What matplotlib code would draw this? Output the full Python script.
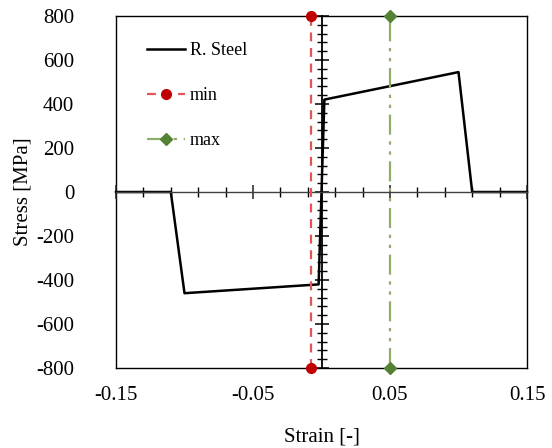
import matplotlib
matplotlib.use('Agg')
from matplotlib import pyplot as plt
from matplotlib.ticker import MultipleLocator, NullFormatter

plt.rcParams['font.family'] = ['Liberation Serif', 'DejaVu Serif']
plt.rcParams['axes.unicode_minus'] = False

# steel stress-strain curve
strain = [-0.15, -0.11, -0.10, -0.0021, 0.0021, 0.10, 0.11, 0.15]
stress = [0, 0, -460, -420, 420, 545, 0, 0]

# limit lines
min_strain = [-0.008, -0.008]
max_strain = [0.05, 0.05]
limit_stress = [-800, 800]

xticks = [-0.15, -0.05, 0.05, 0.15]
xticklabels = ['-0.15', '-0.05', '0.05', '0.15']
yticks = list(range(-800, 801, 200))

fig = plt.figure(figsize=(5.52, 4.48), dpi=100)
pos = [116/552, 80/448, 411/552, 352/448]

# outer frame with the tick labels
ax = fig.add_axes(pos)
ax.set_xlim(-0.15, 0.15)
ax.set_ylim(-800, 800)
ax.set_xticks(xticks)
ax.set_xticklabels(xticklabels)
ax.set_yticks(yticks)
ax.tick_params(axis='x', length=0, pad=13, labelsize=15)
ax.tick_params(axis='y', length=0, pad=30, labelsize=15)
for s in ax.spines.values():
    s.set_linewidth(1.0)
ax.set_xlabel('Strain [-]', fontsize=15, labelpad=16)
ax.set_ylabel('Stress [MPa]', fontsize=15, labelpad=3)

# inner axes crossing at zero
ai = fig.add_axes(pos)
ai.set_xlim(-0.15, 0.15)
ai.set_ylim(-800, 800)
ai.patch.set_visible(False)
ai.spines['top'].set_visible(False)
ai.spines['right'].set_visible(False)
ai.spines['left'].set_position(('data', 0))
ai.spines['bottom'].set_position(('data', 0))
ai.spines['left'].set_linewidth(1.3)
ai.spines['bottom'].set_linewidth(1.0)
ai.spines['bottom'].set_color('#404040')
ai.xaxis.set_major_locator(MultipleLocator(0.1, offset=0.05))
ai.xaxis.set_minor_locator(MultipleLocator(0.02, offset=0.01))
ai.yaxis.set_major_locator(MultipleLocator(200))
ai.yaxis.set_minor_locator(MultipleLocator(40))
ai.xaxis.set_major_formatter(NullFormatter())
ai.yaxis.set_major_formatter(NullFormatter())
ai.tick_params(which='major', direction='inout', length=10, width=1.1)
ai.tick_params(which='minor', direction='inout', length=7, width=1.0)
ai.tick_params(axis='x', colors='#202020')

ai.plot(strain, stress, color='black', lw=1.8, label='R. Steel', clip_on=False)
ai.plot(min_strain, limit_stress, color='#e05555', ls=(0, (4, 3)), lw=1.6,
        marker='o', ms=7, mfc='#c00000', mec='#c00000', label='min', clip_on=False, zorder=5)
ai.plot(max_strain, limit_stress, color='#8fae6c', ls=(0, (9, 3, 1.5, 3, 1.5, 3)), lw=1.6,
        marker='D', ms=6.5, mfc='#548235', mec='#548235', label='max', clip_on=False, zorder=5)

leg = ai.legend(loc='upper left', bbox_to_anchor=(0.035, 0.972), frameon=False, fontsize=13,
                labelspacing=1.55, handlelength=2.1, handletextpad=0.3)

fig.savefig('out.png', dpi=100)
